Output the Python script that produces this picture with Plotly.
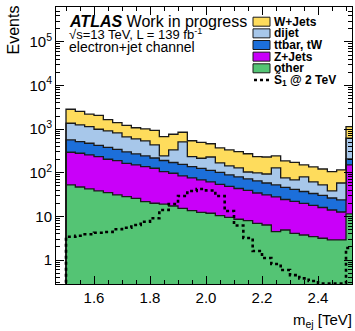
import numpy as np
import plotly.graph_objects as go

# Binning: 1/30 TeV bins starting at 1.5 TeV (last bin sits past the axis edge)
bin_lo = 1.5
bin_width = 1.0 / 30.0

# Background yields per bin (events)
w_jets = [1495, 1299, 1067, 1066, 742, 591, 554, 481, 475, 500, 430, 431, 340, 308, 280,
          232, 203, 190, 176, 169, 135, 136, 114, 111, 104, 71, 74.5, 69.5, 67.7, 57.7, 523]
dijet = [800, 731, 666, 572, 530, 476, 362, 326, 293, 216, 52, 161, 354, 95, 89,
         117, 66, 54, 49, 32, 34, 35.5, 76.5, 30, 27, 43, 28, 22.3, 11.9, 34.5, 411]
ttbar_tw = [270, 237, 219, 189, 176, 152, 135, 119, 105, 91, 85, 74.6, 70.5, 63, 57.6,
            51.5, 48.1, 40.6, 36.5, 32.8, 30.5, 27.3, 24.6, 21.6, 19.4, 17.4, 15.7, 14.2, 12.4, 11.2, 56]
z_jets = [242.5, 232.8, 213.5, 195.7, 169, 159, 136.7, 125, 116.3, 107, 86.8, 80.1, 69.2, 62.5, 56,
          49.7, 43.5, 39, 35, 31.3, 27.45, 24.65, 23.44, 19.52, 17.9, 16.06, 14.38, 12.85, 11.12, 9.72, 139.6]
other = [52.5, 47.2, 42.5, 38.3, 35.0, 31.0, 28.3, 26.0, 21.7, 20.0, 19.2, 17.3, 15.3, 13.5, 12.4,
         11.8, 10.4, 9.5, 8.6, 8.0, 6.95, 6.35, 4.46, 4.88, 4.10, 3.74, 3.42, 3.15, 2.88, 2.88, 11.4]

# Signal S1 (2 TeV) yields per bin
signal = [3.42, 3.61, 3.88, 4.23, 4.39, 5.06, 5.51, 6.35, 7.56, 9.04, 14.0, 19.2, 29.4, 38.3, 42.5,
          39.3, 29.4, 13.3, 6.18, 3.2, 1.61, 1.11, 0.81, 0.59, 0.45, 0.38, 0.33, 0.29, 0.29, 0.29, 1.88]

x_ticks = [1.6, 1.8, 2.0, 2.2, 2.4]
y_ticks = [1, 10, 100, 1000, 10000, 100000]
y_ticktext = ["1", "10", "10<sup>2</sup>", "10<sup>3</sup>", "10<sup>4</sup>", "10<sup>5</sup>"]

layers = [  # bottom to top
    ("other", other, "#54c474"),
    ("Z+Jets", z_jets, "#c900f9"),
    ("ttbar, tW", ttbar_tw, "#1c6fda"),
    ("dijet", dijet, "#a7c7ea"),
    ("W+Jets", w_jets, "#fedc5c"),
]

W, H = 355, 331
ML, MR, MT, MB = 56, 3, 7, 47
PW, PH = W - ML - MR, H - MT - MB
FONT = "Liberation Sans, Arial, Helvetica, sans-serif"

n = len(other)
edges = bin_lo + bin_width * np.arange(n + 1)
floor = 1e-3


def step_xy(vals):
    vals = np.asarray(vals, dtype=float)
    xs = np.concatenate([[edges[0]], edges])
    ys = np.concatenate([[floor], vals, [vals[-1]]])
    return xs, ys


def px(x):
    return (x - ML) / PW


def py(y):
    return (H - MB - y) / PH


fig = go.Figure()

# baseline for the first filled layer
bx, by = step_xy(np.full(n, floor))
fig.add_trace(go.Scatter(x=bx, y=by, mode="lines", line=dict(width=0), line_shape="hv",
                         showlegend=False, hoverinfo="skip"))

cum = np.zeros(n)
for name, vals, color in layers:
    cum = cum + np.asarray(vals, dtype=float)
    xs, ys = step_xy(cum)
    fig.add_trace(go.Scatter(x=xs, y=ys, mode="lines", line_shape="hv", fill="tonexty",
                             fillcolor=color, line=dict(color="#1a1a1a", width=1.3),
                             name=name, showlegend=False))

sx, sy = step_xy(signal)
fig.add_trace(go.Scatter(x=sx, y=sy, mode="lines", line_shape="hv",
                         line=dict(color="black", width=2.6, dash="dot"),
                         name="S1 @ 2 TeV", showlegend=False))

axis_common = dict(showline=True, linecolor="black", linewidth=1, mirror="allticks",
                   ticks="inside", ticklen=8, tickwidth=1, tickcolor="black",
                   showgrid=False, zeroline=False,
                   tickfont=dict(family=FONT, size=15, color="black"))

fig.update_xaxes(range=[1.4643, 2.5214], tickvals=x_ticks, tickformat=".1f",
                 minor=dict(ticks="inside", ticklen=4, dtick=0.05, tick0=1.5, tickcolor="black"),
                 **axis_common)
fig.update_yaxes(type="log", range=[-0.55, 5.80], tickvals=y_ticks, ticktext=y_ticktext,
                 minor=dict(ticks="inside", ticklen=4, dtick="D1", tickcolor="black"),
                 **axis_common)

annotations = [
    dict(x=px(67), y=py(21.5), text="<b><i>ATLAS</i></b> Work in progress",
         font=dict(family=FONT, size=16, color="black")),
    dict(x=px(67), y=py(34), text="√s=13 TeV, L = 139 fb<sup>-1</sup>",
         font=dict(family=FONT, size=13, color="black")),
    dict(x=px(67), y=py(46.5), text="electron+jet channel",
         font=dict(family=FONT, size=14, color="black")),
]
for a in annotations:
    a.update(xref="paper", yref="paper", xanchor="left", yanchor="middle", showarrow=False)

shapes = []
legend_entries = [(name, color) for name, _, color in reversed(layers)]
row0, row_step = 21.7, 11.65
for k, (name, color) in enumerate(legend_entries):
    yc = row0 + row_step * k
    shapes.append(dict(type="rect", xref="paper", yref="paper",
                       x0=px(253), x1=px(270), y0=py(yc + 4.5), y1=py(yc - 4.5),
                       fillcolor=color, line=dict(color="#1a1a1a", width=1)))
    annotations.append(dict(x=px(272), y=py(yc), xref="paper", yref="paper", xanchor="left",
                            yanchor="middle", showarrow=False, text="<b>%s</b>" % name,
                            font=dict(family=FONT, size=12, color="black")))
yc = row0 + row_step * len(legend_entries)
shapes.append(dict(type="line", xref="paper", yref="paper", x0=px(254), x1=px(270),
                   y0=py(yc), y1=py(yc), line=dict(color="black", width=2.5, dash="dot")))
annotations.append(dict(x=px(272), y=py(yc), xref="paper", yref="paper", xanchor="left",
                        yanchor="middle", showarrow=False,
                        text="<b>S\u0303<sub>1</sub> @ 2 TeV</b>",
                        font=dict(family=FONT, size=12, color="black")))

# axis titles
annotations.append(dict(x=px(354), y=py(320), xref="paper", yref="paper", xanchor="right",
                        yanchor="middle", showarrow=False, text="m<sub>ej</sub> [TeV]",
                        font=dict(family=FONT, size=15, color="black")))
annotations.append(dict(x=px(13), y=py(4), xref="paper", yref="paper", xanchor="center",
                        yanchor="top", showarrow=False, text="Events", textangle=-90,
                        font=dict(family=FONT, size=16, color="black")))

fig.update_layout(width=W, height=H, margin=dict(l=ML, r=MR, t=MT, b=MB),
                  paper_bgcolor="white", plot_bgcolor="white",
                  annotations=annotations, shapes=shapes, showlegend=False)

fig.write_html("out.html")
